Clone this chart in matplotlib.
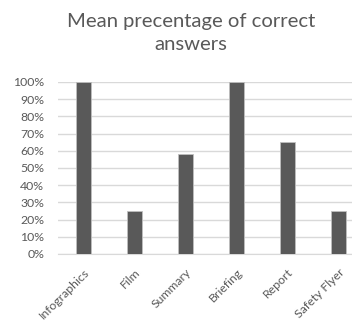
import matplotlib.pyplot as plt
from matplotlib.ticker import PercentFormatter

# Mean share of correct answers per information format
formats = ["Infographics", "Film", "Summary", "Briefing", "Report", "Safety Flyer"]
mean_correct = [100, 25, 58, 100, 65, 25]
y_ticks = [0, 10, 20, 30, 40, 50, 60, 70, 80, 90, 100]

text_grey = "#595959"
plt.rcParams['font.family'] = ['Lato', 'DejaVu Sans']

fig = plt.figure(figsize=(3.52, 3.22), dpi=100)
# axes run slightly past the right edge, as in the cropped chart
ax = fig.add_axes([58 / 352, 1 - 254 / 322, 306 / 352, 172 / 322])

x = range(len(formats))
ax.bar(x, mean_correct, width=0.29, color="#595959", edgecolor="#bfbfbf",
       linewidth=0.6, zorder=3)

ax.set_xlim(-0.5, len(formats) - 0.5)
ax.set_ylim(0, 100)
ax.set_yticks(y_ticks)
ax.yaxis.set_major_formatter(PercentFormatter(decimals=0))
ax.grid(axis="y", color="#d9d9d9", linewidth=1.0, zorder=0)
ax.set_xticks(list(x))
ax.set_xticklabels(formats, rotation=45, ha="right", rotation_mode="anchor")

for side in ["top", "right", "left"]:
    ax.spines[side].set_visible(False)
ax.spines["bottom"].set_color("#d9d9d9")
ax.tick_params(axis="both", length=0, colors=text_grey, labelsize=8.8)
ax.tick_params(axis="y", pad=10)
ax.tick_params(axis="x", pad=9)

fig.text(191 / 352, 1 - 21 / 322, "Mean precentage of correct", ha="center",
         va="center", fontsize=14.6, color=text_grey)
fig.text(191 / 352, 1 - 44 / 322, "answers", ha="center", va="center",
         fontsize=14.6, color=text_grey)

fig.savefig("out.png", dpi=100)
